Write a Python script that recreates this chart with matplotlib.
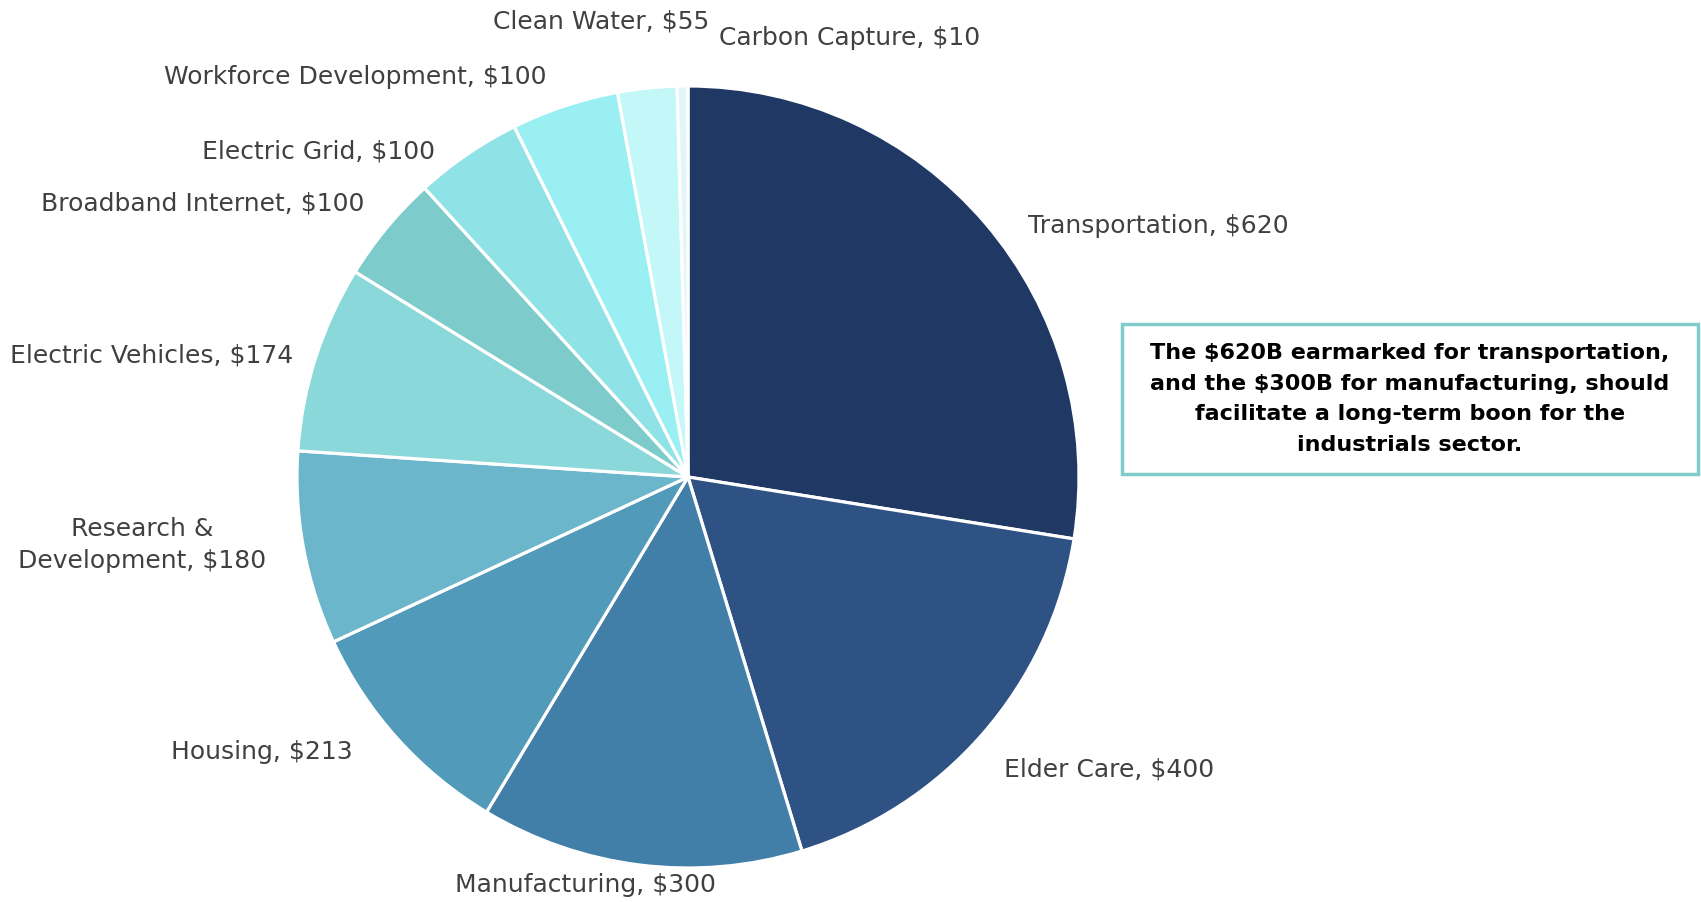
import matplotlib
matplotlib.use("Agg")
import matplotlib.pyplot as plt

categories = ["Transportation", "Elder Care", "Manufacturing", "Housing",
              "Research &\nDevelopment", "Electric Vehicles", "Broadband Internet",
              "Electric Grid", "Workforce Development", "Clean Water", "Carbon Capture"]
values = [620, 400, 300, 213, 180, 174, 100, 100, 100, 55, 10]
colors = ["#1f3864", "#2e5283", "#417ea8", "#529ab9", "#6bb6ca", "#8ad8d9",
          "#7ecbcb", "#8fe2e6", "#99eff1", "#c3f7f8", "#e2f6fa"]
note = ("The $620B earmarked for transportation,\nand the $300B for manufacturing, should\n"
        "facilitate a long-term boon for the\nindustrials sector.")

# label placement (pixel coords, y from top) and alignment
label_pos = [(1028, 226, "left"), (1004, 769, "left"), (585, 885, "center"),
             (353, 752, "right"), (142, 545, "center"), (293, 355, "right"),
             (364, 203, "right"), (435, 151, "right"), (546, 77, "right"),
             (709, 22, "right"), (719, 38, "left")]

W, H = 1701, 902
fig = plt.figure(figsize=(W / 100, H / 100), dpi=100)
ax = fig.add_axes([0, 0, 1, 1])

ax.pie(values, colors=colors, startangle=90, counterclock=False,
       center=(688, H - 477), radius=391, frame=True,
       wedgeprops=dict(edgecolor="white", linewidth=2.3))
ax.set_xlim(0, W)
ax.set_ylim(0, H)
ax.set_aspect("equal")
ax.axis("off")

for cat, val, (x, y, ha) in zip(categories, values, label_pos):
    ax.text(x, H - y, f"{cat}, ${val}", ha=ha, va="center", fontsize=18,
            color="#404040", family="DejaVu Sans", linespacing=1.38)

ax.add_patch(plt.Rectangle((1122, H - 474), 576, 150, fill=False,
                           edgecolor="#80cccc", linewidth=2.5))
ax.text(1410, H - 399, note, ha="center", va="center", fontsize=16,
        fontweight="bold", color="black", family="DejaVu Sans", linespacing=1.68)

fig.savefig("out.png", dpi=100)
